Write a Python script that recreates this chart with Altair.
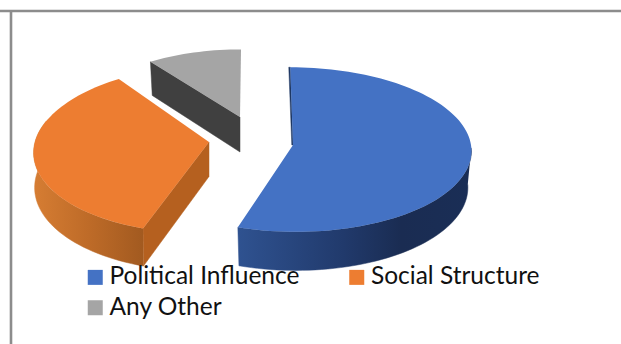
import math
import altair as alt
import pandas as pd

# Shares of each slice, in percent, clockwise from twelve o'clock
categories = ["Political Influence", "Social Structure", "Any Other"]
shares = [55, 35, 10]
top_colors = ["#4472C4", "#ED7D31", "#A5A5A5"]

# Tilted-disc geometry of each exploded slice
# (apex, radii, perspective, shear, rim depth, narrowing of the lower rim)
GEOMETRY = {
    "Political Influence": dict(ax=293, ay=145, a=178, b=82, k=0.055, s=0.035, d=36.5, n=0.02),
    "Social Structure": dict(ax=209, ay=142, a=174, b=83.4, k=0.087, s=-0.085, d=34.5, n=0.006),
    "Any Other": dict(ax=240, ay=117, a=160, b=71, k=0.05, s=-0.015, d=35, n=0.02),
}


def project(name, deg, drop=0.0):
    g = GEOMETRY[name]
    th = math.radians(deg)
    X, Y = math.sin(th), math.cos(th)
    p = 1 / (1 + g["k"] * Y)
    dy = -g["b"] * Y * p
    narrow = 1 - g["n"] * drop
    return g["ax"] + (g["a"] * X * p + g["s"] * dy) * narrow, g["ay"] + dy + drop * g["d"] * p


# Angular span of every slice, derived from its share
spans = {}
start = 0.0
for name, share in zip(categories, shares):
    spans[name] = (start, start + share * 3.6)
    start += share * 3.6

side_rows, top_rows = [], []
poly_id = 0


def add_side(points, color):
    global poly_id
    # Repeat the first vertex so the outline closes
    for i, (x, y) in enumerate(list(points) + [points[0]]):
        side_rows.append(dict(poly=poly_id, seq=i, x=x, y=y, color=color))
    poly_id += 1


def rim_rows(name, deg0, deg1, step=2.0):
    n = max(1, int(abs(deg1 - deg0) / step))
    angles = [deg0 + (deg1 - deg0) * i / n for i in range(n + 1)]
    outline = [project(name, u) for u in angles] + [project(name, u, 1) for u in reversed(angles)]
    return pd.DataFrame([dict(seq=i, x=x, y=y) for i, (x, y) in enumerate(outline)])


def add_cut(name, deg, color):
    g = GEOMETRY[name]
    apex = (g["ax"], g["ay"])
    apex_low = (g["ax"], g["ay"] + g["d"])
    add_side([apex, project(name, deg), project(name, deg, 1), apex_low], color)


# Flat cut faces behind the tops
add_cut("Any Other", spans["Any Other"][0], "#404040")
add_cut("Social Structure", spans["Social Structure"][0], "#B5601F")

# Narrow sliver of the blue slice's far cut face
g_blue = GEOMETRY["Political Influence"]
tx, ty = project("Political Influence", 0)
add_side([(g_blue["ax"], g_blue["ay"]), (tx, ty), (tx - 1.5, ty), (g_blue["ax"] - 1.2, g_blue["ay"])], "#1F3864")

# Flat top of each slice
for name in categories:
    g = GEOMETRY[name]
    d0, d1 = spans[name]
    top_rows.append(dict(category=name, seq=0, x=g["ax"], y=g["ay"]))
    n = int((d1 - d0) / 2)
    for i in range(n + 1):
        x, y = project(name, d0 + (d1 - d0) * i / n)
        top_rows.append(dict(category=name, seq=i + 1, x=x, y=y))

x_enc = alt.X("x:Q", scale=alt.Scale(domain=[0, 621]), axis=None)
y_enc = alt.Y("y:Q", scale=alt.Scale(domain=[344, 0]), axis=None)


def rim_layer(name, deg0, deg1, stops):
    gradient = alt.Gradient(
        gradient="linear",
        x1=0,
        x2=1,
        y1=0,
        y2=0,
        stops=[alt.GradientStop(offset=o, color=c) for o, c in stops],
    )
    return (
        alt.Chart(rim_rows(name, deg0, deg1))
        .mark_line(filled=True, fill=gradient, stroke=gradient, strokeWidth=0.5)
        .encode(x=x_enc, y=y_enc, order="seq:Q")
    )


orange_rim = rim_layer(
    "Social Structure",
    spans["Social Structure"][0],
    285,
    [(0, "#D67D33"), (0.5, "#BE6B28"), (1, "#A25A20")],
)
blue_rim = rim_layer(
    "Political Influence",
    92,
    spans["Political Influence"][1],
    [(0, "#2F5290"), (0.45, "#213A6C"), (0.7, "#1A2C52"), (1, "#1A2E56")],
)

sides = alt.Chart(pd.DataFrame(side_rows)).mark_line(filled=True, strokeWidth=0.5).encode(
    x=x_enc,
    y=y_enc,
    order="seq:Q",
    detail="poly:N",
    fill=alt.Fill("color:N", scale=None),
    stroke=alt.Stroke("color:N", scale=None),
)

tops = alt.Chart(pd.DataFrame(top_rows)).mark_line(filled=True, strokeWidth=0).encode(
    x=x_enc,
    y=y_enc,
    order="seq:Q",
    fill=alt.Fill(
        "category:N",
        scale=alt.Scale(domain=categories, range=top_colors),
        sort=categories,
        legend=alt.Legend(
            title=None,
            orient="none",
            legendX=83,
            legendY=265,
            columns=2,
            direction="horizontal",
            padding=0,
            symbolType="square",
            symbolSize=225,
            symbolStrokeWidth=0,
            labelFont="Lato",
            labelFontSize=24.5,
            labelColor="#111111",
            labelOffset=2,
            labelLimit=400,
            columnPadding=44.5,
            rowPadding=5.5,
        ),
    ),
)

frame = pd.DataFrame(
    [dict(x0=0, x1=621, y0=11, y1=11), dict(x0=11, x1=11, y0=10, y1=344)]
)
border = alt.Chart(frame).mark_rule(color="#8C8C8C", strokeWidth=2.6).encode(
    x=alt.X("x0:Q", scale=alt.Scale(domain=[0, 621]), axis=None),
    x2="x1:Q",
    y=alt.Y("y0:Q", scale=alt.Scale(domain=[344, 0]), axis=None),
    y2="y1:Q",
)

chart = (
    alt.layer(border, sides, orange_rim, blue_rim, tops)
    .resolve_scale(fill="independent", stroke="independent")
    .properties(width=621, height=344, padding=0, autosize=alt.AutoSizeParams(type="none"), background="white")
    .configure_view(stroke=None)
)

chart.save("out.html", embed_options={"renderer": "svg", "actions": False})
